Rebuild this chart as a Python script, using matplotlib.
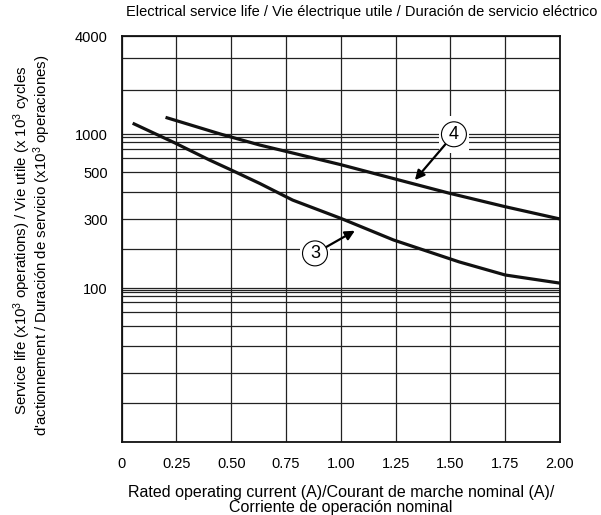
import numpy as np
import matplotlib
matplotlib.use('Agg')
import matplotlib.pyplot as plt

plt.rcParams['font.family'] = ['Liberation Sans', 'DejaVu Sans']
plt.rcParams['mathtext.fontset'] = 'custom'
plt.rcParams['mathtext.rm'] = 'Liberation Sans'
plt.rcParams['mathtext.it'] = 'Liberation Sans:italic'

# curve (3)
cur3_x = [0.05, 0.24, 0.40, 0.50, 0.63, 0.78, 1.00, 1.24, 1.54, 1.75, 2.00]
cur3_y = [1185, 790, 585, 513, 440, 367, 302, 226, 159, 126, 109]
# curve (4)
cur4_x = [0.20, 0.45, 0.63, 1.00, 1.18, 1.49, 1.75, 2.00]
cur4_y = [1300, 1000, 755, 550, 483, 396, 342, 300]

x_ticks = [0, 0.25, 0.5, 0.75, 1.0, 1.25, 1.5, 1.75, 2.0]
x_labels = ['0', '0.25', '0.50', '0.75', '1.00', '1.25', '1.50', '1.75', '2.00']
y_ticks = [100, 300, 500, 1000, 4000]
y_labels = ['100', '300', '500', '1000', '4000']

# grid values of the printed chart and where they sit (height above bottom, px)
grid_vals = [10, 15, 20, 30, 40, 50, 60, 70, 80, 90, 100, 200, 300, 400,
             500, 600, 700, 800, 900, 1000, 2000, 3000, 4000]
grid_pos = [0, 39, 69, 96, 116, 130, 140, 146, 150.5, 152.5, 154, 193, 223,
            250, 270, 284, 293, 300, 305, 308, 352, 384, 406]

log_vals = np.log10(grid_vals)
pos = np.array(grid_pos, dtype=float)


def forward(v):
    v = np.clip(np.asarray(v, dtype=float), 1e-3, None)
    return np.interp(np.log10(v), log_vals, pos)


def inverse(h):
    return 10 ** np.interp(np.asarray(h, dtype=float), pos, log_vals)


fig = plt.figure(figsize=(6.01, 5.15), dpi=100)
ax = fig.add_axes([121.7 / 601, 1 - 442 / 515, 438.3 / 601, 406 / 515])
ax.set_yscale('function', functions=(forward, inverse))
ax.set_xlim(0, 2.0)
ax.set_ylim(10, 4000)

ax.set_xticks(x_ticks)
ax.set_xticklabels(x_labels)
ax.set_yticks(y_ticks)
ax.set_yticklabels(y_labels)
ax.set_yticks([v for v in grid_vals if v not in y_ticks], minor=True)
ax.tick_params(which='both', length=0, labelsize=10.5)
ax.tick_params(axis='x', pad=11)
ax.tick_params(axis='y', pad=10)
ax.grid(True, which='both', color='#222222', lw=0.9)
for s in ax.spines.values():
    s.set_linewidth(1.3)
    s.set_color('#111111')

ax.plot(cur3_x, cur3_y, color='#111111', lw=2.3, solid_capstyle='butt', zorder=3)
ax.plot(cur4_x, cur4_y, color='#111111', lw=2.3, solid_capstyle='butt', zorder=3)

arrow = dict(arrowstyle='-|>', color='black', lw=1.6, mutation_scale=14,
             shrinkA=0, shrinkB=0)
for lab, tip, at in [('4', (1.338, 457), (1.516, 990)),
                     ('3', (1.064, 256), (0.882, 185))]:
    # white patch that breaks the grid round the marker
    ax.text(at[0], at[1], lab, fontsize=13, ha='center', va='center', color='white',
            bbox=dict(boxstyle='square,pad=0.55', fc='white', ec='none'), zorder=4)
    ax.annotate(lab, xy=tip, xytext=at, fontsize=13, ha='center', va='center',
                bbox=dict(boxstyle='circle,pad=0.22', fc='white', ec='black', lw=0.8),
                arrowprops=arrow, zorder=5)

fig.text(362 / 601, 1 - 12 / 515,
         'Electrical service life / Vie électrique utile / Duración de servicio eléctrico',
         ha='center', va='center', fontsize=10.5)
fig.text(340.85 / 601, 1 - 492 / 515,
         'Rated operating current (A)/Courant de marche nominal (A)/',
         ha='center', va='center', fontsize=11.5)
fig.text(340.85 / 601, 1 - 507.5 / 515, 'Corriente de operación nominal',
         ha='center', va='center', fontsize=11.5)
fig.text(22.5 / 601, 1 - 240 / 515,
         'Service life (x10$^3$ operations) / Vie utile (x 10$^3$ cycles',
         ha='center', va='center', rotation=90, fontsize=10.8)
fig.text(42.5 / 601, 1 - 245 / 515,
         "d'actionnement / Duración de servicio (x10$^3$ operaciones)",
         ha='center', va='center', rotation=90, fontsize=10.8)

fig.savefig('out.png', dpi=100)
